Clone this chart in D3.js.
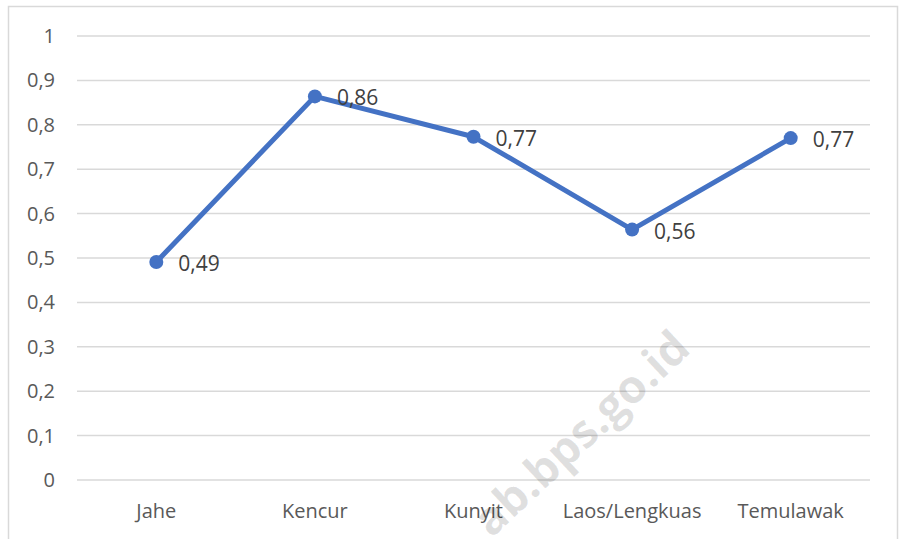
<!DOCTYPE html>
<html>
<head>
<meta charset="utf-8">
<script src="https://cdn.jsdelivr.net/npm/d3@7"></script>
<style>
  body { margin: 0; background: #fff; }
  text { font-family: "Open Sans", "Liberation Sans", sans-serif; }
</style>
</head>
<body>
<svg id="chart" width="900" height="539"></svg>
<script>
const categories = ["Jahe", "Kencur", "Kunyit", "Laos/Lengkuas", "Temulawak"];
const values = [0.491, 0.864, 0.773, 0.564, 0.770];
const yTicks = [0, 0.1, 0.2, 0.3, 0.4, 0.5, 0.6, 0.7, 0.8, 0.9, 1];

const svg = d3.select("#chart");
const plotLeft = 77, plotRight = 870, plotTop = 36, plotBottom = 480;
const fmt = v => String(Math.round(v * 100) / 100).replace(".", ",");

// chart border
svg.append("rect")
  .attr("x", 8.5).attr("y", 6.5)
  .attr("width", 889).attr("height", 560)
  .attr("fill", "none").attr("stroke", "#d9d9d9").attr("stroke-width", 1.5);

const x = d3.scaleBand().domain(categories).range([plotLeft, plotRight]);
const y = d3.scaleLinear().domain([0, 1]).range([plotBottom, plotTop]);

// gridlines
svg.append("g")
  .selectAll("line")
  .data(yTicks)
  .enter()
  .append("line")
  .attr("x1", plotLeft).attr("x2", plotRight)
  .attr("y1", d => y(d)).attr("y2", d => y(d))
  .attr("stroke", "#d9d9d9").attr("stroke-width", 1.5);

// y labels
svg.append("g")
  .selectAll("text")
  .data(yTicks)
  .enter()
  .append("text")
  .attr("x", 55)
  .attr("y", d => y(d) + 7)
  .attr("text-anchor", "end")
  .attr("font-size", 20)
  .attr("fill", "#595959")
  .text(d => fmt(d));

// x labels
svg.append("g")
  .selectAll("text")
  .data(categories)
  .enter()
  .append("text")
  .attr("x", d => x(d) + x.bandwidth() / 2)
  .attr("y", 518)
  .attr("text-anchor", "middle")
  .attr("font-size", 20)
  .attr("fill", "#595959")
  .text(d => d);

// watermark
svg.append("text")
  .attr("transform", "translate(592,445) rotate(-43)")
  .attr("text-anchor", "middle")
  .attr("font-size", 46)
  .attr("font-weight", "bold")
  .attr("fill", "#000")
  .attr("fill-opacity", 0.12)
  .text("ab.bps.go.id");

const pts = categories.map((c, i) => ({ c: c, v: values[i] }));
const line = d3.line()
  .x(d => x(d.c) + x.bandwidth() / 2)
  .y(d => y(d.v));

svg.append("path")
  .datum(pts)
  .attr("d", line)
  .attr("fill", "none")
  .attr("stroke", "#4472c4")
  .attr("stroke-width", 5)
  .attr("stroke-linejoin", "round");

svg.append("g")
  .selectAll("circle")
  .data(pts)
  .enter()
  .append("circle")
  .attr("cx", d => x(d.c) + x.bandwidth() / 2)
  .attr("cy", d => y(d.v))
  .attr("r", 7)
  .attr("fill", "#4472c4");

svg.append("g")
  .selectAll("text")
  .data(pts)
  .enter()
  .append("text")
  .attr("x", d => x(d.c) + x.bandwidth() / 2 + 22)
  .attr("y", d => y(d.v) + 9)
  .attr("font-size", 21)
  .attr("fill", "#404040")
  .text(d => fmt(d.v));
</script>
</body>
</html>
